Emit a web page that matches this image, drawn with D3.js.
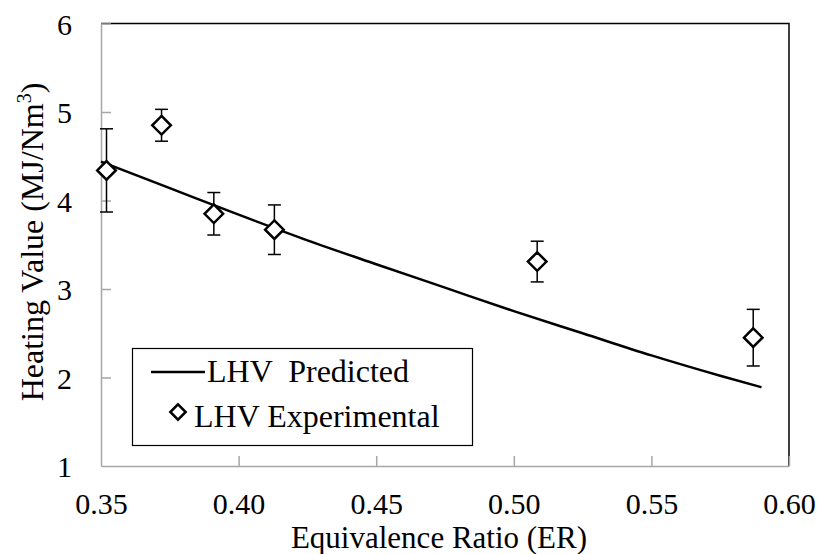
<!DOCTYPE html>
<html>
<head>
<meta charset="utf-8">
<script src="https://cdn.jsdelivr.net/npm/d3@7"></script>
<style>
  body { margin: 0; background: #fff; }
  text { font-family: "Liberation Serif", "Times New Roman", serif; fill: #000; }
</style>
</head>
<body>
<script>
// predicted LHV curve
var predER  = [0.35, 0.375, 0.40, 0.425, 0.45, 0.475, 0.50, 0.525, 0.55, 0.575, 0.59];
var predLHV = [4.44, 4.14, 3.84, 3.55, 3.28, 3.015, 2.75, 2.50, 2.25, 2.02, 1.89];

// experimental LHV with error
var expER  = [0.352, 0.372, 0.391, 0.413, 0.5085, 0.587];
var expLHV = [4.34, 4.85, 3.85, 3.67, 3.31, 2.45];
var expErr = [0.47, 0.18, 0.24, 0.28, 0.23, 0.32];

var xTicks = [0.35, 0.40, 0.45, 0.50, 0.55, 0.60];
var yTicks = [1, 2, 3, 4, 5, 6];

var width = 819, height = 554;
var pLeft = 101, pRight = 789, pTop = 23.5, pBottom = 466;

var svg = d3.select("body").append("svg")
    .attr("width", width)
    .attr("height", height);

var x = d3.scaleLinear().domain([0.35, 0.60]).range([pLeft, pRight]);
var y = d3.scaleLinear().domain([1, 6]).range([pBottom, pTop]);

//plot border (top and right in black)
svg.append("path")
    .attr("d", "M" + pLeft + "," + pTop + "H" + pRight + "V" + pBottom)
    .attr("fill", "none")
    .attr("stroke", "#000")
    .attr("stroke-width", 1.5);

//axes in gray with inward ticks
var xAxis = svg.append("g")
    .attr("transform", "translate(0," + pBottom + ")")
    .call(d3.axisBottom(x).tickValues(xTicks).tickSizeInner(-10).tickSizeOuter(0).tickFormat(d3.format(".2f")));
var yAxis = svg.append("g")
    .attr("transform", "translate(" + pLeft + ",0)")
    .call(d3.axisLeft(y).tickValues(yTicks).tickSizeInner(-10).tickSizeOuter(0).tickFormat(d3.format("d")));

[xAxis, yAxis].forEach(function(g){
    g.select(".domain").attr("stroke", "#a6a6a6").attr("stroke-width", 1.5);
    g.selectAll(".tick line").attr("stroke", "#a6a6a6").attr("stroke-width", 1.5);
    g.selectAll(".tick text")
        .attr("fill", "#000")
        .style("font-family", "Liberation Serif, serif")
        .style("font-size", "30px");
});
xAxis.selectAll(".tick text").attr("y", 27).attr("dy", "0.71em");
yAxis.selectAll(".tick text").attr("x", -29).attr("dy", "0.35em");
//hide tick marks at the frame edges
xAxis.selectAll(".tick line").filter(function(d){ return d === 0.35; }).remove();
yAxis.selectAll(".tick line").filter(function(d){ return d === 1; }).remove();

//axis titles
svg.append("text")
    .attr("x", (pLeft + pRight) / 2 - 6)
    .attr("y", 548)
    .attr("text-anchor", "middle")
    .style("font-size", "31px")
    .text("Equivalence Ratio (ER)");

var yTitle = svg.append("text")
    .attr("transform", "translate(43,242) rotate(-90)")
    .attr("text-anchor", "middle")
    .style("font-size", "32px");
yTitle.append("tspan").text("Heating Value (MJ/Nm");
yTitle.append("tspan").attr("dy", -12).style("font-size", "20px").text("3");
yTitle.append("tspan").attr("dy", 12).text(")");

//predicted line
var line = d3.line()
    .x(function(d, i){ return x(predER[i]); })
    .y(function(d){ return y(d); })
    .curve(d3.curveMonotoneX);

svg.append("path")
    .datum(predLHV)
    .attr("d", line)
    .attr("fill", "none")
    .attr("stroke", "#000")
    .attr("stroke-width", 2.5);

//error bars
var bars = svg.selectAll(".err")
    .data(expLHV)
    .enter()
    .append("g")
    .attr("class", "err")
    .attr("stroke", "#000")
    .attr("stroke-width", 1.5);
bars.append("line")
    .attr("x1", function(d, i){ return x(expER[i]); })
    .attr("x2", function(d, i){ return x(expER[i]); })
    .attr("y1", function(d, i){ return y(d + expErr[i]); })
    .attr("y2", function(d, i){ return y(d - expErr[i]); });
[1, -1].forEach(function(s){
    bars.append("line")
        .attr("x1", function(d, i){ return x(expER[i]) - 6.5; })
        .attr("x2", function(d, i){ return x(expER[i]) + 6.5; })
        .attr("y1", function(d, i){ return y(d + s * expErr[i]); })
        .attr("y2", function(d, i){ return y(d + s * expErr[i]); });
});

//diamond markers
var diamond = d3.symbol().type(d3.symbolDiamond2).size(220);
svg.selectAll(".pt")
    .data(expLHV)
    .enter()
    .append("path")
    .attr("class", "pt")
    .attr("d", diamond)
    .attr("transform", function(d, i){ return "translate(" + x(expER[i]) + "," + y(d) + ")"; })
    .attr("fill", "#fff")
    .attr("stroke", "#000")
    .attr("stroke-width", 2.5);

//legend
var legend = svg.append("g");
legend.append("rect")
    .attr("x", 132.5).attr("y", 348.5)
    .attr("width", 340).attr("height", 97)
    .attr("fill", "#fff")
    .attr("stroke", "#000")
    .attr("stroke-width", 1.2);
legend.append("line")
    .attr("x1", 151).attr("x2", 205)
    .attr("y1", 372).attr("y2", 372)
    .attr("stroke", "#000").attr("stroke-width", 2.5);
legend.append("text")
    .attr("x", 207).attr("y", 382)
    .style("font-size", "32px")
    .style("white-space", "pre")
    .text("LHV  Predicted");
legend.append("path")
    .attr("d", d3.symbol().type(d3.symbolDiamond2).size(150))
    .attr("transform", "translate(178,412)")
    .attr("fill", "#fff")
    .attr("stroke", "#000")
    .attr("stroke-width", 2.5);
legend.append("text")
    .attr("x", 194).attr("y", 427)
    .style("font-size", "32px")
    .text("LHV Experimental");
</script>
</body>
</html>
